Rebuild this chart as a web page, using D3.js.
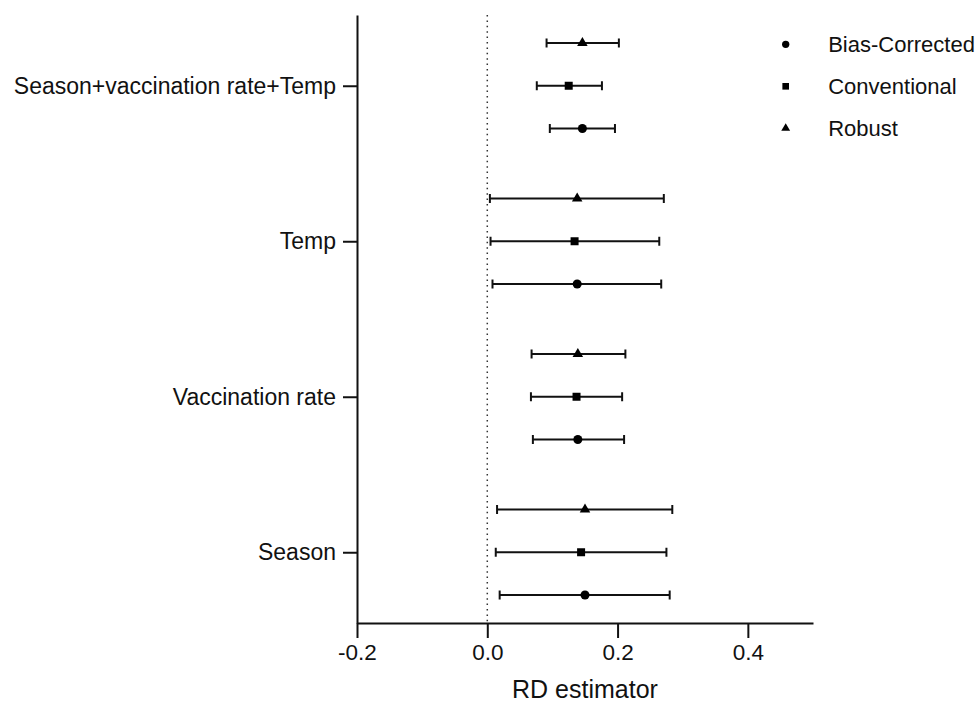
<!DOCTYPE html>
<html lang="en">
<head>
<meta charset="UTF-8"/>
<title>RD estimator</title>
<script src="https://d3js.org/d3.v7.js"></script>
<style>
  body { margin: 0; background: #fff; }
  text { font-family: "Liberation Sans", Arial, sans-serif; fill: #111; }
</style>
</head>
<body>
<div id="chart"></div>
<script>
// categories, bottom to top
const categories = ["Season", "Vaccination rate", "Temp", "Season+vaccination rate+Temp"];
const methods = ["Bias-Corrected", "Conventional", "Robust"];
// estimates and CI per method, same order as categories
const biasEst   = [0.150, 0.139, 0.138, 0.146];
const biasLow   = [0.019, 0.070, 0.008, 0.096];
const biasHigh  = [0.280, 0.210, 0.267, 0.196];
const convEst   = [0.144, 0.137, 0.134, 0.125];
const convLow   = [0.013, 0.067, 0.005, 0.076];
const convHigh  = [0.275, 0.207, 0.264, 0.176];
const robEst    = [0.150, 0.139, 0.138, 0.146];
const robLow    = [0.015, 0.068, 0.004, 0.091];
const robHigh   = [0.284, 0.212, 0.271, 0.202];
const xTicks = [-0.2, 0.0, 0.2, 0.4];

const margin = {top: 15, right: 164, bottom: 81, left: 357},
    width = 977 - margin.left - margin.right,
    height = 704 - margin.top - margin.bottom;

const svg = d3.select("#chart")
  .append("svg")
    .attr("width", 977)
    .attr("height", 704)
  .append("g")
    .attr("transform", `translate(${margin.left},${margin.top})`);

const x = d3.scaleLinear().domain([-0.2, 0.5]).range([0, width]);
// category index 1..4, methods offset inside each group
const y = d3.scaleLinear().domain([0.545, 4.455]).range([height, 0]);
const offset = {"Bias-Corrected": -0.275, "Conventional": 0, "Robust": 0.275};

const rows = [];
categories.forEach((c, i) => {
  rows.push({cat: i + 1, m: "Bias-Corrected", est: biasEst[i], lo: biasLow[i], hi: biasHigh[i]});
  rows.push({cat: i + 1, m: "Conventional", est: convEst[i], lo: convLow[i], hi: convHigh[i]});
  rows.push({cat: i + 1, m: "Robust", est: robEst[i], lo: robLow[i], hi: robHigh[i]});
});

const shape = {
  "Bias-Corrected": d3.symbol().type(d3.symbolCircle).size(64),
  "Conventional": d3.symbol().type(d3.symbolSquare).size(64),
  "Robust": d3.symbol().type(d3.symbolTriangle).size(48)
};
const legendShape = {
  "Bias-Corrected": d3.symbol().type(d3.symbolCircle).size(42),
  "Conventional": d3.symbol().type(d3.symbolSquare).size(44),
  "Robust": d3.symbol().type(d3.symbolTriangle).size(34)
};

// dotted reference line at zero
svg.append("line")
  .attr("x1", x(0)).attr("x2", x(0))
  .attr("y1", 0).attr("y2", height)
  .attr("stroke", "#333")
  .attr("stroke-width", 1.5)
  .attr("stroke-dasharray", "1.5,3.9");

// X axis
const xAxis = svg.append("g")
  .attr("transform", `translate(0, ${height})`)
  .call(d3.axisBottom(x).tickValues(xTicks).tickFormat(d3.format(".1f")).tickSize(15).tickPadding(6).tickSizeOuter(0));
xAxis.select(".domain").attr("stroke", "#111").attr("stroke-width", 2);
xAxis.selectAll(".tick line").attr("stroke", "#111").attr("stroke-width", 2);
xAxis.selectAll(".tick text").attr("font-size", 22.5).attr("font-family", "Liberation Sans, Arial, sans-serif").attr("fill", "#111")
  .text(d => d3.format(".1f")(d).replace("−", "-"));

// Y axis
const yAxis = svg.append("g")
  .call(d3.axisLeft(y).tickValues([1, 2, 3, 4]).tickFormat(d => categories[d - 1]).tickSize(14).tickPadding(7).tickSizeOuter(0));
yAxis.select(".domain").attr("stroke", "#111").attr("stroke-width", 2);
yAxis.selectAll(".tick line").attr("stroke", "#111").attr("stroke-width", 2);
yAxis.selectAll(".tick text").attr("font-size", 23).attr("font-family", "Liberation Sans, Arial, sans-serif").attr("fill", "#111");

svg.append("text")
  .attr("text-anchor", "middle")
  .attr("x", width / 2)
  .attr("y", height + 75)
  .attr("font-size", 25)
  .text("RD estimator");

// error bars
const bars = svg.append("g").selectAll("g")
  .data(rows)
  .join("g")
    .attr("stroke", "#111")
    .attr("stroke-width", 2);
bars.append("line")
  .attr("x1", d => x(d.lo)).attr("x2", d => x(d.hi))
  .attr("y1", d => y(d.cat + offset[d.m])).attr("y2", d => y(d.cat + offset[d.m]));
bars.append("line")
  .attr("x1", d => x(d.lo)).attr("x2", d => x(d.lo))
  .attr("y1", d => y(d.cat + offset[d.m]) - 4.5).attr("y2", d => y(d.cat + offset[d.m]) + 4.5);
bars.append("line")
  .attr("x1", d => x(d.hi)).attr("x2", d => x(d.hi))
  .attr("y1", d => y(d.cat + offset[d.m]) - 4.5).attr("y2", d => y(d.cat + offset[d.m]) + 4.5);

svg.append("g").selectAll("path")
  .data(rows)
  .join("path")
    .attr("d", d => shape[d.m]())
    .attr("transform", d => `translate(${x(d.est)},${y(d.cat + offset[d.m])})`)
    .attr("fill", "#000");

// legend
const legend = svg.append("g")
  .selectAll("g")
  .data(methods)
  .join("g")
    .attr("transform", (d, i) => `translate(${785.7 - margin.left},${44.3 + i * 42 - margin.top})`);
legend.append("path")
  .attr("d", d => legendShape[d]())
  .attr("fill", "#000");
legend.append("text")
  .attr("x", 42.5)
  .attr("dy", "0.35em")
  .attr("font-size", 22)
  .text(d => d);
</script>
</body>
</html>
